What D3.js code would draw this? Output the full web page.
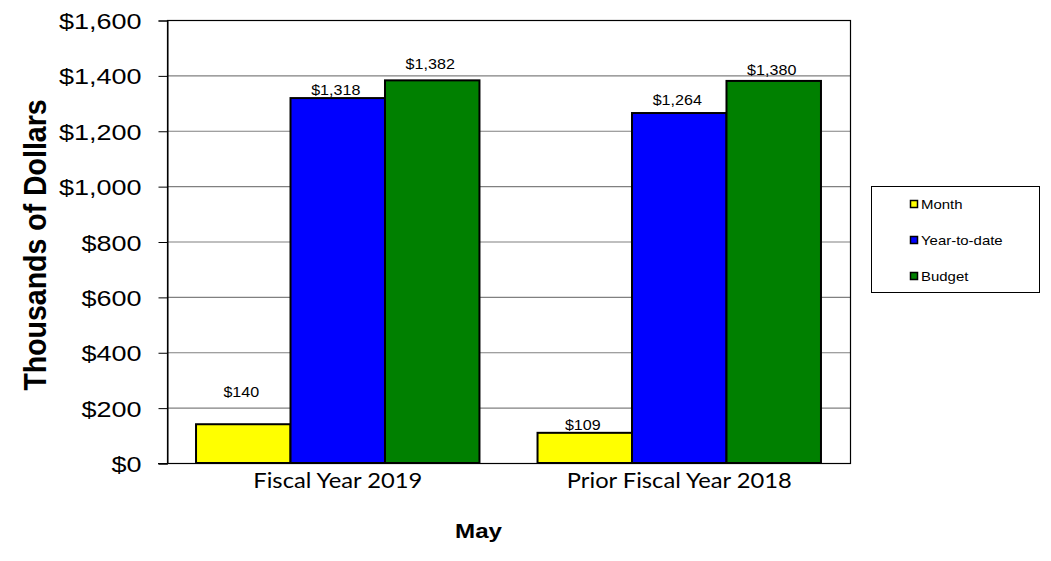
<!DOCTYPE html>
<html><head><meta charset="utf-8">
<script src="https://cdn.jsdelivr.net/npm/d3@7"></script>
<style>body{margin:0;background:#fff}svg{display:block}</style>
</head><body><svg id="c" width="1051" height="561"></svg>
<script>
const categories = ["Fiscal Year 2019", "Prior Fiscal Year 2018"];
const seriesNames = ["Month", "Year-to-date", "Budget"];
const monthValues = [140, 109];
const ytdValues = [1318, 1264];
const budgetValues = [1382, 1380];
const yTicks = [0, 200, 400, 600, 800, 1000, 1200, 1400, 1600];
const colors = ["#ffff00", "#0000ff", "#008000"];

const series = [monthValues, ytdValues, budgetValues];
const svg = d3.select("#c");
const L = 167, R = 850, T = 20, B = 463;
const SX = 1.2; // horizontal text stretch seen in the reference
const ARIAL = "Liberation Sans, Arial, sans-serif";
const fmt = d => "$" + d3.format(",")(d);

const x0 = d3.scaleBand().domain(categories).range([L, R]).paddingInner(0.17).paddingOuter(0.085);
const x1 = d3.scaleBand().domain(seriesNames).range([0, x0.bandwidth()]);
const y = d3.scaleLinear().domain([0, 1600]).range([B, T]);

// gridlines
svg.append("g").selectAll("line").data(yTicks.filter(d => d > 0 && d < 1600)).join("line")
  .attr("x1", L).attr("x2", R).attr("y1", d => y(d) + 0.5).attr("y2", d => y(d) + 0.5)
  .attr("stroke", "#808080").attr("stroke-width", 1.2);

// plot border
svg.append("rect").attr("x", L + 0.5).attr("y", T + 0.5).attr("width", R - L).attr("height", B - T)
  .attr("fill", "none").attr("stroke", "#000").attr("stroke-width", 1.2);

// y axis
const yAxis = d3.axisLeft(y).tickValues(yTicks).tickSize(9).tickFormat(fmt);
const ga = svg.append("g").attr("transform", `translate(${L + 0.5},0.5)`).call(yAxis);
ga.select(".domain").attr("stroke", "#000");
ga.selectAll(".tick line").attr("stroke", "#000");
ga.selectAll(".tick text")
  .attr("x", null).attr("dy", null)
  .attr("transform", `translate(-26,8) scale(${SX},1)`)
  .attr("font-family", ARIAL).attr("font-size", 22.5).attr("fill", "#000");

// baseline extending left
svg.append("line").attr("x1", L - 9).attr("x2", R).attr("y1", B + 0.5).attr("y2", B + 0.5).attr("stroke", "#000").attr("stroke-width", 1.2);

// bars
const labelLift = [[27, 2.5], [3, 8], [11.5, 6]];
series.forEach((vals, si) => {
  const g = svg.append("g");
  g.selectAll("rect").data(vals).join("rect")
    .attr("x", (d, i) => x0(categories[i]) + x1(seriesNames[si]))
    .attr("y", d => y(d))
    .attr("width", x1.bandwidth())
    .attr("height", d => B - y(d))
    .attr("fill", colors[si]).attr("stroke", "#000").attr("stroke-width", 2);
  g.selectAll("text").data(vals).join("text")
    .attr("transform", (d, i) => `translate(${x0(categories[i]) + x1(seriesNames[si]) + x1.bandwidth() / 2 - 2},${y(d) - labelLift[si][i]}) scale(1.15,1)`)
    .attr("text-anchor", "middle")
    .attr("font-family", ARIAL).attr("font-size", 14).attr("fill", "#000")
    .text(fmt);
});

// category labels
svg.append("g").selectAll("text").data(categories).join("text")
  .attr("transform", d => `translate(${x0(d) + x0.bandwidth() / 2},488) scale(1.13,1)`)
  .attr("text-anchor", "middle")
  .attr("font-family", "Lato, Open Sans, sans-serif").attr("font-size", 21).attr("fill", "#000")
  .text(d => d);

// axis titles
svg.append("text").attr("transform", `translate(478.5,538) scale(1.15,1)`).attr("text-anchor", "middle")
  .attr("font-family", ARIAL).attr("font-weight", "bold").attr("font-size", 21)
  .text("May");
svg.append("text").attr("transform", `translate(46,245) scale(1.1,1) rotate(-90)`).attr("text-anchor", "middle")
  .attr("font-family", ARIAL).attr("font-weight", "bold").attr("font-size", 28.5)
  .text("Thousands of Dollars");

// legend
const lg = svg.append("g");
lg.append("rect").attr("x", 871.5).attr("y", 186.5).attr("width", 168).attr("height", 106)
  .attr("fill", "#fff").attr("stroke", "#000").attr("stroke-width", 1);
const rows = lg.selectAll("g.row").data(seriesNames).join("g").attr("class", "row")
  .attr("transform", (d, i) => `translate(0,${204 + i * 36})`);
rows.append("rect").attr("x", 910.5).attr("y", -3.5).attr("width", 7).attr("height", 7)
  .attr("fill", (d, i) => colors[i]).attr("stroke", "#000").attr("stroke-width", 1.5);
rows.append("text").attr("transform", "translate(921,5) scale(1.15,1)").attr("font-family", ARIAL)
  .attr("font-size", 13).attr("fill", "#000").text(d => d);
</script></body></html>
